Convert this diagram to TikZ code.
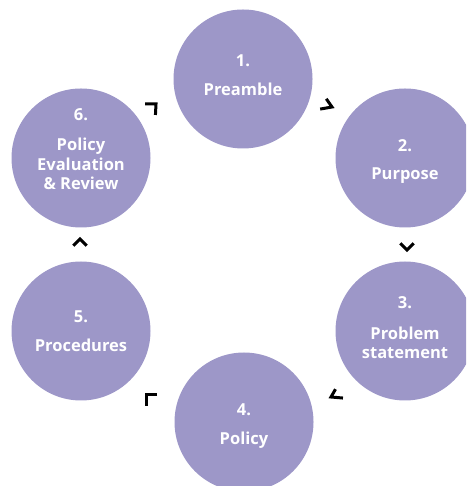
\documentclass[tikz,border=0pt]{standalone}
\usepackage{fontspec}
\setmainfont{Open Sans}
\usetikzlibrary{calc}
\definecolor{lav}{RGB}{157,151,200}
\begin{document}
\begin{tikzpicture}[x=1pt,y=1pt,
  circ/.style={circle,fill=lav,minimum size=139pt,inner sep=0pt},
  lbl/.style={text=white,font=\fontsize{16.5}{19.5}\selectfont\bfseries,align=center,anchor=base,inner sep=0pt},
  chev/.style={line width=3pt,line join=miter,line cap=butt,black}]
\useasboundingbox (0,0) rectangle (466,486);
\begin{scope}
\clip (0,0) rectangle (466,486);
\node[circ] (c1) at (243,407) {};
\node[circ] (c2) at (405,328) {};
\node[circ] (c3) at (405,155) {};
\node[circ] (c4) at (244,64) {};
\node[circ] (c5) at (81,155) {};
\node[circ] (c6) at (81,328) {};
\end{scope}
% labels (baselines; multi-line nodes at their last baseline)
\node[lbl] (n1) at (243,419) {1.};
\node[lbl] (t1) at (243,390) {Preamble};
\node[lbl] (n2) at (405,334) {2.};
\node[lbl] (t2) at (405,306) {Purpose};
\node[lbl] (n3) at (405,177) {3.};
\node[lbl] (t3) at (405,127) {Problem\\statement};
\node[lbl] (n4) at (244,70) {4.};
\node[lbl] (t4) at (244,41) {Policy};
\node[lbl] (n5) at (81,163) {5.};
\node[lbl] (t5) at (81,134) {Procedures};
\node[lbl] (n6) at (81,365) {6.};
\node[lbl] (t6) at (81,296) {Policy\\Evaluation\\\& Review};
% chevrons
\coordinate (a12) at (332,379);
\coordinate (a23) at (407,236);
\coordinate (a34) at (331,89);
\coordinate (a45) at (146,91);
\coordinate (a56) at (80,247);
\coordinate (a61) at (156,382);
\draw[chev] ($(a12)+(125:10)$) -- (a12) -- ($(a12)+(190:12)$);
\draw[chev] ($(a23)+(45:9.5)$) -- (a23) -- ($(a23)+(135:9.5)$);
\draw[chev] ($(a34)+(60:9)$) -- (a34) -- ($(a34)+(-5:12)$);
\draw[chev] ($(a45)+(0:11)$) -- (a45) -- ($(a45)+(-90:11)$);
\draw[chev] ($(a56)+(-45:9.5)$) -- (a56) -- ($(a56)+(-135:9.5)$);
\draw[chev] ($(a61)+(180:11)$) -- (a61) -- ($(a61)+(-93:11)$);
\end{tikzpicture}
\end{document}
